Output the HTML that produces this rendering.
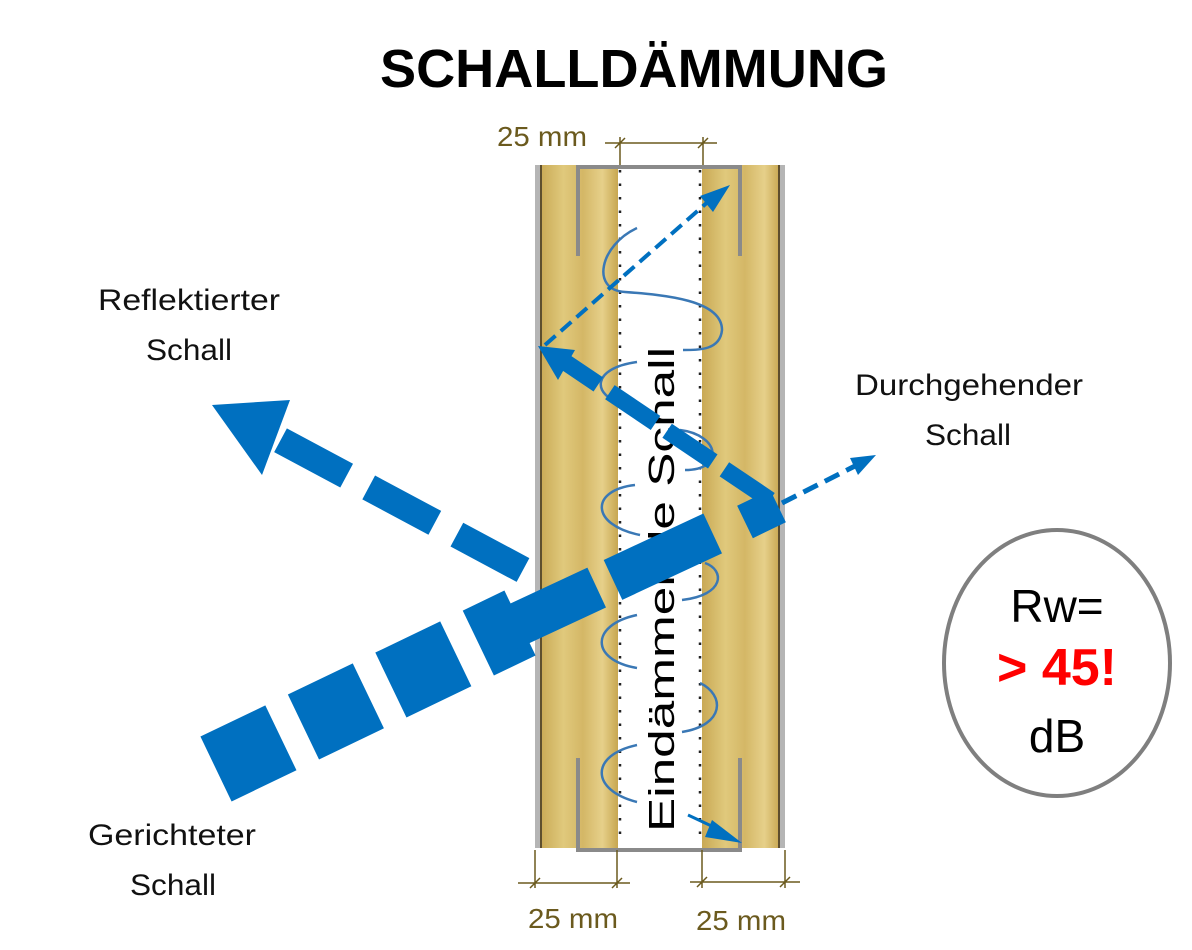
<!DOCTYPE html>
<html><head><meta charset="utf-8"><style>
body{margin:0;background:#fff}
svg{display:block}
text{font-family:"Liberation Sans",sans-serif}
</style></head><body>
<svg width="1192" height="950" viewBox="0 0 1192 950" xmlns="http://www.w3.org/2000/svg">
<defs>
<linearGradient id="wool" x1="0" x2="1" y1="0" y2="0">
<stop offset="0" stop-color="#c9a955"/><stop offset="0.3" stop-color="#e0c97c"/><stop offset="0.55" stop-color="#d4b766"/><stop offset="0.8" stop-color="#e6d08a"/><stop offset="1" stop-color="#c7a650"/>
</linearGradient>
</defs>
<text x="634" y="87" font-size="54" font-weight="bold" text-anchor="middle" textLength="508" lengthAdjust="spacingAndGlyphs">SCHALLDÄMMUNG</text>
<!-- wall -->
<rect x="535" y="165" width="6" height="683" fill="#b5b5b5"/>
<rect x="779" y="165" width="6" height="683" fill="#b5b5b5"/>
<rect x="540" y="165" width="78" height="683" fill="url(#wool)"/>
<rect x="702" y="165" width="78" height="683" fill="url(#wool)"/>
<line x1="541" y1="165" x2="541" y2="848" stroke="#3a3020" stroke-width="1.5"/>
<line x1="779" y1="165" x2="779" y2="848" stroke="#3a3020" stroke-width="1.5"/>
<line x1="620" y1="170" x2="620" y2="845" stroke="#222" stroke-width="2.5" stroke-dasharray="2.5,11"/>
<line x1="700" y1="170" x2="700" y2="845" stroke="#222" stroke-width="2.5" stroke-dasharray="2.5,11"/>
<!-- channels -->
<path d="M578,256 V167 H740 V256" fill="none" stroke="#8a8a8a" stroke-width="4"/>
<path d="M578,758 V850 H740 V758" fill="none" stroke="#8a8a8a" stroke-width="4"/>
<!-- dimensions -->
<g stroke="#6b5a1e" stroke-width="1.5" fill="none">
<path d="M605,143 H717 M620,137 V165 M703,137 V165 M615,148 L625,138 M698,148 L708,138"/>
<path d="M535,850 V888 M617,850 V888 M518,883 H630 M530,888 L540,878 M612,888 L622,878"/>
<path d="M702,850 V888 M785,850 V888 M690,882 H800 M697,887 L707,877 M780,887 L790,877"/>
</g>
<g fill="#6b5a1e" font-size="28">
<text x="497" y="146" textLength="90" lengthAdjust="spacingAndGlyphs">25 mm</text>
<text x="528" y="928" textLength="90" lengthAdjust="spacingAndGlyphs">25 mm</text>
<text x="696" y="930" textLength="90" lengthAdjust="spacingAndGlyphs">25 mm</text>
</g>
<!-- wave -->
<g fill="none" stroke="#3a78b5" stroke-width="2.5">
<path d="M637,228 C600,245 590,290 625,292 C665,295 722,300 722,330 C720,350 700,350 683,350"/>
<path d="M637,362 C592,368 590,395 625,405"/>
<path d="M680,430 C720,435 725,470 685,470"/>
<path d="M635,485 C590,490 590,525 640,535"/>
<path d="M705,563 C725,570 725,595 682,600"/>
<path d="M637,615 C590,625 590,660 637,668"/>
<path d="M700,683 C725,695 725,725 682,732"/>
<path d="M637,745 C590,755 590,790 637,802"/>
</g>
<!-- vertical text -->
<text transform="translate(674,832) rotate(-90)" font-size="36" textLength="485" lengthAdjust="spacingAndGlyphs">Eindämmende Schall</text>
<!-- arrows -->
<g fill="none" stroke="#0070c0" stroke-linecap="butt">
<line x1="216" y1="769" x2="520" y2="623" stroke-width="72" stroke-dasharray="72,25"/>
<line x1="497" y1="634" x2="720" y2="530" stroke-width="44" stroke-dasharray="110,18"/>
<line x1="745" y1="522" x2="778" y2="506" stroke-width="36"/>
<line x1="523" y1="570" x2="280" y2="440" stroke-width="27" stroke-dasharray="75,25"/>
<line x1="770" y1="500" x2="565" y2="362" stroke-width="17" stroke-dasharray="55,14"/>
<line x1="545" y1="345" x2="710" y2="200" stroke-width="4" stroke-dasharray="14,7"/>
<line x1="782" y1="503" x2="855" y2="466" stroke-width="5" stroke-dasharray="16,8"/>
<line x1="688" y1="815" x2="720" y2="830" stroke-width="3"/>
</g>
<g fill="#0070c0">
<path d="M212,405 L290,400 L262,475z"/>
<path d="M538,346 L575,350 L558,380z"/>
<path d="M730,185 L700,196 L713,212z"/>
<path d="M876,455 L850,458 L858,475z"/>
<path d="M742,843 L712,820 L705,837z"/>
</g>
<!-- labels -->
<g font-size="30" fill="#111">
<text x="98" y="310" textLength="182" lengthAdjust="spacingAndGlyphs">Reflektierter</text>
<text x="146" y="360" textLength="86" lengthAdjust="spacingAndGlyphs">Schall</text>
<text x="855" y="395" textLength="228" lengthAdjust="spacingAndGlyphs">Durchgehender</text>
<text x="925" y="445" textLength="86" lengthAdjust="spacingAndGlyphs">Schall</text>
<text x="88" y="845" textLength="168" lengthAdjust="spacingAndGlyphs">Gerichteter</text>
<text x="130" y="895" textLength="86" lengthAdjust="spacingAndGlyphs">Schall</text>
</g>
<!-- circle -->
<ellipse cx="1057" cy="663" rx="113" ry="133" fill="#fff" stroke="#7f7f7f" stroke-width="4"/>
<text x="1057" y="622" font-size="46" text-anchor="middle">Rw=</text>
<text x="1057" y="685" font-size="52" font-weight="bold" fill="#ff0000" text-anchor="middle">&gt; 45!</text>
<text x="1057" y="752" font-size="46" text-anchor="middle">dB</text>
</svg>
</body></html>
